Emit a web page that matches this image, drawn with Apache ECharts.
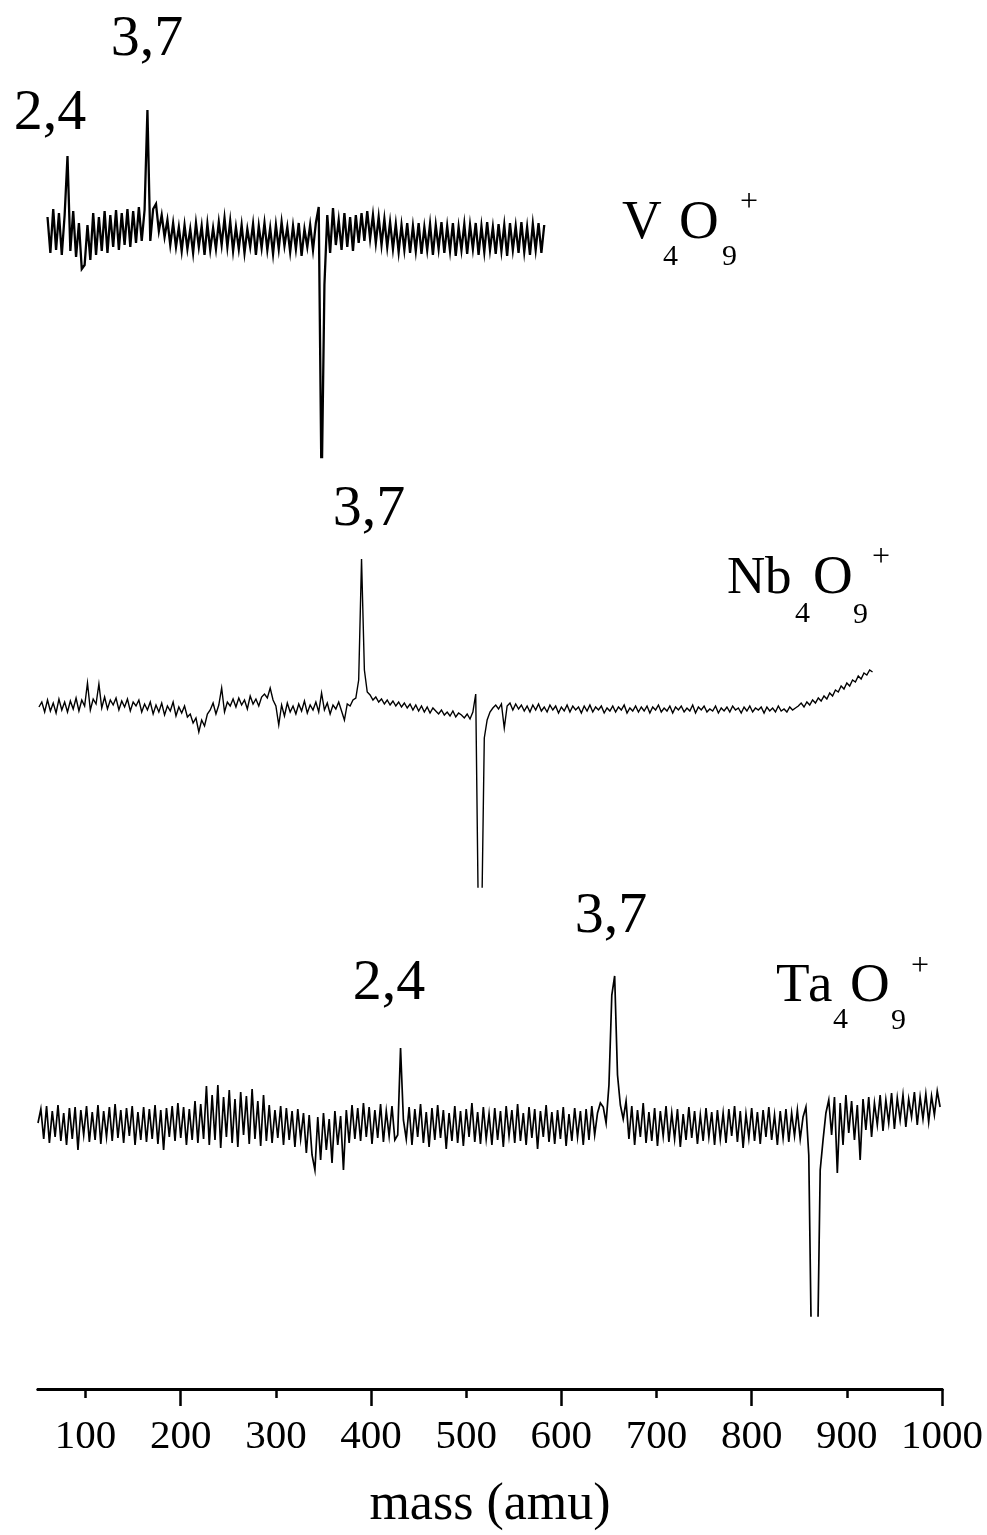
<!DOCTYPE html>
<html>
<head>
<meta charset="utf-8">
<script src="https://cdn.jsdelivr.net/npm/echarts@6/dist/echarts.min.js"></script>
<style>
html,body{margin:0;padding:0;background:#fff;}
#chart{width:987px;height:1535px;}
</style>
</head>
<body>
<div id="chart"></div>
<script>
// ---- x axis (mass, amu) ----
const tickLabels = [100, 200, 300, 400, 500, 600, 700, 800, 900, 1000];
const majorTicks = [200, 400, 600, 800, 1000];
const minorTicks = [100, 300, 500, 700, 900];

// ---- V4O9+ trace: mass sampling (start, step) and signal (arb. units) ----
const vMassStart = 60, vMassStep = 3;
const vSignal = [
  18, -18, 26, -15, 22, -20, 20, 79, -16, 24,
  -22, 12, -34, -30, 10, -25, 22, -20, 18, -16,
  24, -18, 20, -12, 25, -15, 22, -10, 26, -12,
  24, -8, 28, -6, 25, 125, -6, 26, 31, 4,
  20, -2, 15, -10, 12, -12, 8, -16, 10, -14,
  6, -18, 12, -12, 9, -20, 11, -15, 7, -14,
  13, -10, 17, -12, 14, -16, 8, -14, 10, -18,
  6, -12, 11, -20, 9, -13, 12, -15, 7, -19,
  10, -14, 13, -11, 8, -17, 9, -14, 12, -21,
  6, -12, 10, -15, 12,
  28, -260, -50, 20, -18, 27, -10,
  15, -15, 22, -12, 18, -16, 20, -8,
  22, -6, 24, -4, 20, -8, 18, -10, 16, -12,
  13, -14, 11, -17, 10, -15, 12, -18, 9, -16,
  12, -19, 8, -15, 11, -20, 10, -14, 13, -18,
  9, -16, 12, -21, 8, -15, 11, -19, 10, -14,
  12, -20, 9, -17, 13, -15, 8, -19, 11, -16,
  10, -21, 12, -15, 9, -18, 13, -17, 8, -20,
  11, -15, 12, -18, 10
];

// ---- Nb4O9+ trace ----
const nbMassStart = 51, nbMassStep = 3;
const nbSignal = [
  1, 6, -4, 8, -3, 5, -5, 9, -2, 6,
  -4, 7, -1, 10, -3, 8, 2, 25, -2, 9,
  4, 24, 0, 11, -1, 8, 3, 10, -2, 7,
  1, 9, -3, 6, 2, 8, -4, 4, -2, 6,
  -6, 3, -4, 5, -7, 2, -3, 6, -8, 1,
  -5, 2, -9, -6, -15, -10, -24, -12, -18, -6,
  -2, 5, -6, 3, 20, -4, 6, 2, 9, 1,
  10, 3, 8, -1, 12, 4, 9, 2, 11, 14,
  10, 20, 8, 2, -17, 3, -8, 5, -4, 2,
  -6, 4, -3, 7, -5, 3, -2, 6, -4, 15,
  -2, 5, -6, 3, -1, 6, -3, -12, 4, 2,
  8, 10, 28, 149, 38, 16, 13, 8, 11, 6,
  9, 4, 8, 3, 7, 2, 6, 1, 5, 0,
  4, -2, 3, -3, 2, -4, 1, -5, 0, -3,
  -6, -2, -7, -4, -8, -3, -9, -5, -7, -10,
  -6, -11, -4, 14, -230, -230, -30, -12, -4, 0,
  3, -1, 4, -20, 2, 5, -2, 4, -1, 3,
  -3, 2, -4, 3, -2, 4, -3, 1, -4, 3,
  -2, 2, -5, 1, -3, 3, -4, 2, -2, 1,
  -5, 2, -3, 3, -4, 1, -2, 2, -5, 0,
  -3, 2, -4, 1, -2, 3, -5, 0, -3, 2,
  -4, 1, -3, 2, -5, 1, -2, 3, -4, 0,
  -3, 2, -5, 1, -2, 2, -4, 0, -3, 3,
  -5, 1, -2, 2, -4, -1, -3, 2, -5, 0,
  -3, 1, -4, 2, -2, 0, -5, 1, -3, 2,
  -4, 0, -2, 1, -5, 1, -3, 0, -4, 2,
  -3, -1, -4, 1, -2, 0, 2, 5, 1, 6,
  3, 8, 5, 10, 7, 12, 9, 15, 12, 18,
  16, 22, 19, 25, 22, 28, 26, 32, 29, 35,
  33, 38, 36
];

// ---- Ta4O9+ trace ----
const taMassStart = 50, taMassStep = 3;
const taSignal = [
  2, 16, -14, 19, -18, 14, -12, 20, -16, 12,
  -20, 17, -14, 18, -25, 15, -10, 19, -17, 13,
  -15, 20, -19, 14, -12, 18, -16, 21, -13, 15,
  -18, 17, -11, 19, -20, 13, -15, 18, -17, 16,
  -14, 20, -19, 15, -25, 17, -12, 19, -16, 22,
  -13, 18, -20, 16, -15, 24, -18, 21, -14, 39,
  -20, 30, -15, 40, -23, 28, -12, 35, -18, 26,
  -22, 33, -10, 29, -19, 36, -14, 24, -21, 30,
  -16, 20, -18, 15, -13, 19, -20, 17, -15, 14,
  -22, 16, -14, 12, -28, 10, -30, -45, 8, -35,
  12, -25, 6, -38, 14, -20, 9, -45, 15, -18,
  20, -14, 17, -16, 22, -12, 18, -19, 15, -13,
  21, -17, 14, -11, 19, -15, -10, 77, 5, -14,
  18, -20, 16, -12, 21, -18, 13, -22, 17, -15,
  20, -13, 15, -24, 12, -16, 19, -18, 14, -21,
  16, -12, 22, -17, 13, -19, 18, -14, 11, -20,
  17, -15, 14, -22, 19, -11, 15, -18, 21, -16,
  12, -20, 18, -13, 16, -24, 14, -12, 20, -17,
  13, -19, 15, -14, 18, -21, 11, -16, 17, -12,
  14, -20, 16, -15, 19, -10, 12, 22, 18, 2,
  40, 130, 149, 50, 20, 6, 24, -14, 19, -20,
  15, -12, 22, -18, 13, -16, 17, -21, 14, -11,
  19, -17, 12, -14, 16, -22, 11, -15, 18, -13,
  14, -19, 10, -16, 17, -12, 13, -20, 15, -14,
  12, -18, 16, -11, 19, -17, 14, -23, 11, -13,
  17, -16, 13, -19, 15, -12, 18, -15, 10, -20,
  14, -13, 16, -17, 12, -11, 15, -14, 8, 18,
  -30, -240, -240, -240, -45, -15, 12, 25, -10, 28,
  -48, 22, -20, 30, -8, 24, -15, 20, -35, 26,
  -5, 28, -12, 22, 0, 30, -6, 25, 2, 32,
  -4, 27, 5, 30, -2, 26, 8, 33, 0, 28,
  6, 31, 3, 29, 10, 34, 18
];

// ---- text ----
const peakLabels = ['2,4', '3,7', '3,7', '2,4', '3,7'];
const axisTitle = 'mass (amu)';

function pairs(start, step, vals) {
  return vals.map(function (v, i) { return [start + i * step, v]; });
}

const SERIF = '"Liberation Serif", "Times New Roman", serif';
const chart = echarts.init(document.getElementById('chart'), null, { renderer: 'canvas' });

const gridBase = { left: 38, right: 45 };
const axisLineStyle = function () {
  return { show: true, onZero: false, lineStyle: { color: '#000', width: 3 } };
};
const hiddenX = function (gi) {
  return { type: 'value', gridIndex: gi, min: 50, max: 1000, show: false };
};
const hiddenY = function (gi, mn, mx) {
  return { type: 'value', gridIndex: gi, min: mn, max: mx, show: false };
};
const lineSeries = function (idx, data, w) {
  return {
    type: 'line', xAxisIndex: idx, yAxisIndex: idx, data: data,
    showSymbol: false, symbol: 'none', clip: true, silent: true,
    lineStyle: { color: '#000', width: w, join: 'miter' }
  };
};

function txt(text, x, y, size, align) {
  return {
    type: 'text', x: x, y: y, silent: true,
    style: {
      text: text, fill: '#000', font: size + 'px ' + SERIF,
      align: align || 'left', verticalAlign: 'middle'
    }
  };
}

const option = {
  backgroundColor: '#ffffff',
  animation: false,
  grid: [
    Object.assign({ top: 100, height: 357 }, gridBase),
    Object.assign({ top: 540, height: 347 }, gridBase),
    Object.assign({ top: 960, height: 356 }, gridBase),
    Object.assign({ top: 1330, height: 59 }, gridBase)
  ],
  xAxis: [
    hiddenX(0),
    hiddenX(1),
    {
      // minor ticks, drawn on the shared axis line position
      type: 'value', gridIndex: 2, min: 50, max: 1000, position: 'bottom', offset: 73,
      axisLine: axisLineStyle(),
      axisTick: { show: true, customValues: minorTicks, length: 9, lineStyle: { color: '#000', width: 2.5 } },
      axisLabel: { show: false },
      splitLine: { show: false }
    },
    {
      type: 'value', gridIndex: 3, min: 50, max: 1000, position: 'bottom',
      name: axisTitle, nameLocation: 'middle', nameGap: 90,
      nameTextStyle: { fontFamily: SERIF, fontSize: 52, color: '#000' },
      axisLine: axisLineStyle(),
      axisTick: { show: true, customValues: majorTicks, length: 17, lineStyle: { color: '#000', width: 2.5 } },
      axisLabel: {
        show: true, customValues: tickLabels, margin: 28, fontFamily: SERIF, fontSize: 41, color: '#000',
        formatter: function (v) { return String(v); }
      },
      splitLine: { show: false }
    }
  ],
  yAxis: [
    hiddenY(0, -222, 135),
    hiddenY(1, -179, 168),
    hiddenY(2, -191, 165),
    hiddenY(3, 0, 1)
  ],
  series: [
    lineSeries(0, pairs(vMassStart, vMassStep, vSignal), 2.3),
    lineSeries(1, pairs(nbMassStart, nbMassStep, nbSignal), 1.4),
    lineSeries(2, pairs(taMassStart, taMassStep, taSignal), 1.7)
  ],
  graphic: [
    // peak labels
    txt(peakLabels[0], 50, 114, 58, 'center'),
    txt(peakLabels[1], 147, 40, 58, 'center'),
    txt(peakLabels[2], 369, 510, 58, 'center'),
    txt(peakLabels[3], 389, 984, 58, 'center'),
    txt(peakLabels[4], 611, 917, 58, 'center'),
    // V4O9+
    txt('V', 622, 224, 55), txt('4', 663, 257, 30), txt('O', 679, 224, 55), txt('9', 722, 257, 30), txt('+', 740, 203, 32),
    // Nb4O9+
    txt('N', 727, 579, 53), txt('b', 765, 579, 53), txt('4', 795, 614, 30), txt('O', 813, 579, 55), txt('9', 853, 615, 30), txt('+', 872, 558, 32),
    // Ta4O9+
    txt('T', 776, 987, 55), txt('a', 808, 987, 55), txt('4', 833, 1020, 30), txt('O', 850, 987, 55), txt('9', 891, 1021, 30), txt('+', 911, 967, 32)
  ]
};
chart.setOption(option);
</script>
</body>
</html>
